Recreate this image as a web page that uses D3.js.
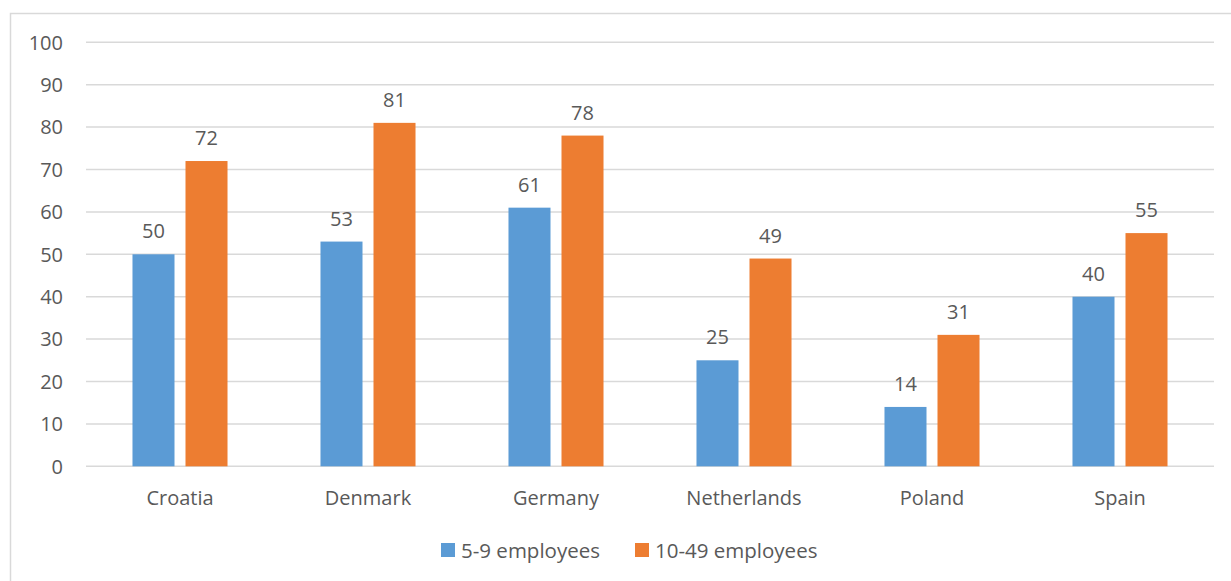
<!DOCTYPE html>
<html>
<head>
<meta charset="utf-8">
<script src="https://cdn.jsdelivr.net/npm/d3@7"></script>
<style>
  html, body { margin: 0; padding: 0; background: #fff; }
  svg { display: block; font-family: "Open Sans", "Noto Sans", sans-serif; }
</style>
</head>
<body>
<svg id="chart" width="1231" height="581"></svg>
<script>
// Share of enterprises by country and size class
const countries = ["Croatia", "Denmark", "Germany", "Netherlands", "Poland", "Spain"];
const seriesNames = ["5-9 employees", "10-49 employees"];
const small = [50, 53, 61, 25, 14, 40];
const medium = [72, 81, 78, 49, 31, 55];
const yTicks = [0, 10, 20, 30, 40, 50, 60, 70, 80, 90, 100];
const colors = ["#5B9BD5", "#ED7D31"];

const values = [small, medium];
const textColor = "#595959";
const gridColor = "#d9d9d9";

const svg = d3.select("#chart");

// outer chart frame
svg.append("rect")
  .attr("x", 10.5).attr("y", 13.5)
  .attr("width", 1240).attr("height", 600)
  .attr("fill", "none").attr("stroke", gridColor).attr("stroke-width", 1.5);

const plot = { left: 86, right: 1214, top: 42.3, bottom: 466.3 };

const y = d3.scaleLinear().domain([0, 100]).range([plot.bottom, plot.top]);
const x0 = d3.scaleBand().domain(countries).range([plot.left, plot.right]).paddingInner(0).paddingOuter(0);
const x1 = d3.scaleBand().domain(seriesNames).range([0, x0.bandwidth()])
  .paddingInner(0.2075).paddingOuter(0.877);

// gridlines
svg.append("g").selectAll("line").data(yTicks).join("line")
  .attr("x1", plot.left).attr("x2", plot.right)
  .attr("y1", d => y(d)).attr("y2", d => y(d))
  .attr("stroke", gridColor).attr("stroke-width", 1.5);

// y tick labels
svg.append("g").selectAll("text").data(yTicks).join("text")
  .attr("x", 63).attr("y", d => y(d)).attr("dy", "0.36em")
  .attr("text-anchor", "end").attr("fill", textColor).attr("font-size", 20)
  .text(d => d);

// bars and value labels
seriesNames.forEach((s, si) => {
  const g = svg.append("g");
  g.selectAll("rect").data(countries).join("rect")
    .attr("x", c => x0(c) + x1(s))
    .attr("width", x1.bandwidth())
    .attr("y", (c, i) => y(values[si][i]))
    .attr("height", (c, i) => y(0) - y(values[si][i]))
    .attr("fill", colors[si]);
  g.selectAll("text").data(countries).join("text")
    .attr("x", c => x0(c) + x1(s) + x1.bandwidth() / 2)
    .attr("y", (c, i) => y(values[si][i]) - 16)
    .attr("text-anchor", "middle").attr("fill", textColor).attr("font-size", 20)
    .text((c, i) => values[si][i]);
});

// category labels
svg.append("g").selectAll("text").data(countries).join("text")
  .attr("x", c => x0(c) + x0.bandwidth() / 2)
  .attr("y", 505)
  .attr("text-anchor", "middle").attr("fill", textColor).attr("font-size", 20)
  .text(c => c);

// legend
const legendX = [441, 635];
const lg = svg.append("g");
seriesNames.forEach((s, i) => {
  lg.append("rect").attr("x", legendX[i]).attr("y", 543).attr("width", 14).attr("height", 14)
    .attr("fill", colors[i]);
  lg.append("text").attr("x", legendX[i] + 20).attr("y", 557.5)
    .attr("fill", textColor).attr("font-size", 20.5).text(s);
});
</script>
</body>
</html>
